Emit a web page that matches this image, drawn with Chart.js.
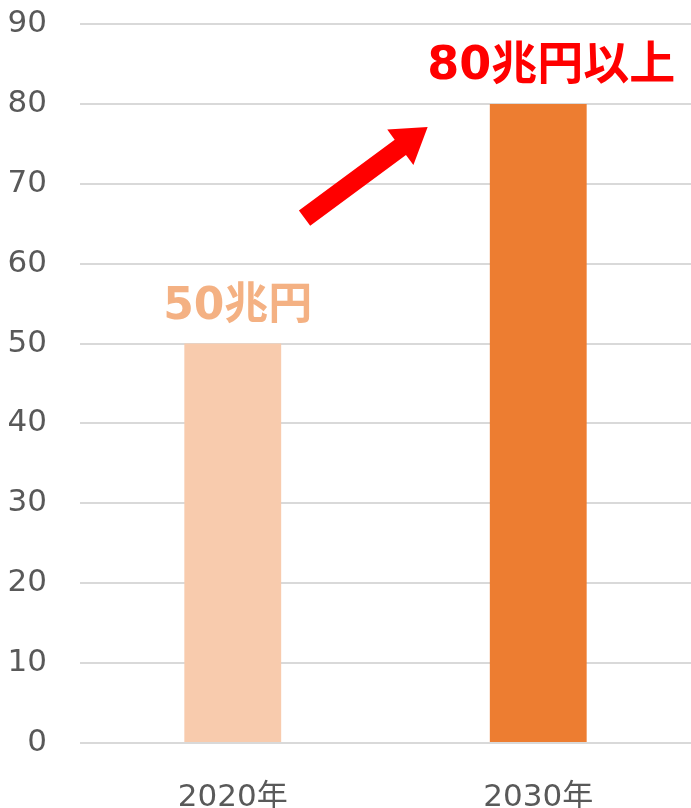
<!DOCTYPE html>
<html>
<head>
<meta charset="utf-8">
<script src="https://cdn.jsdelivr.net/npm/chart.js@4"></script>
<style>
  html, body { margin: 0; padding: 0; background: #fff; }
  #wrap { width: 691px; height: 808px; }
</style>
</head>
<body>
<div id="wrap"><canvas id="c" width="691" height="808"></canvas></div>
<script>
const categories = ['2020年', '2030年'];
const values = [50, 80];
const barColors = ['#F8CBAD', '#ED7D31'];
const labelSuffixes = ['', '以上'];
const labelColors = ['#F4B183', '#FF0000'];
const yTicks = [0, 10, 20, 30, 40, 50, 60, 70, 80, 90];

const FONT = '"DejaVu Sans", "Noto Sans CJK JP", sans-serif';

// value labels above the bars and the growth arrow between them
const annotate = {
  id: 'annotate',
  afterDatasetsDraw(chart) {
    const ctx = chart.ctx;
    const x = chart.scales.x, y = chart.scales.y;
    const meta = chart.getDatasetMeta(0);
    ctx.save();
    ctx.textBaseline = 'alphabetic';
    ctx.textAlign = 'center';
    const offsets = [5, 13];
    const sizes = [44, 46];
    values.forEach((v, i) => {
      const bar = meta.data[i];
      ctx.font = 'bold ' + sizes[i] + 'px ' + FONT;
      ctx.fillStyle = labelColors[i];
      ctx.fillText(v + '兆円' + labelSuffixes[i], bar.x + offsets[i], bar.y - 25);
    });

    // arrow from the first bar's label toward the second bar's top
    const x0 = x.getPixelForValue(0.235), y0 = y.getPixelForValue(65.7);
    const x1 = x.getPixelForValue(0.638), y1 = y.getPixelForValue(77.1);
    const ang = Math.atan2(y1 - y0, x1 - x0);
    const len = Math.hypot(x1 - x0, y1 - y0);
    const shaftW = 19, headW = 44, headL = 34;
    ctx.translate(x0, y0);
    ctx.rotate(ang);
    ctx.beginPath();
    ctx.moveTo(0, -shaftW / 2);
    ctx.lineTo(len - headL, -shaftW / 2);
    ctx.lineTo(len - headL, -headW / 2);
    ctx.lineTo(len, 0);
    ctx.lineTo(len - headL, headW / 2);
    ctx.lineTo(len - headL, shaftW / 2);
    ctx.lineTo(0, shaftW / 2);
    ctx.closePath();
    ctx.fillStyle = '#FF0000';
    ctx.fill();
    ctx.restore();
  }
};

new Chart(document.getElementById('c'), {
  type: 'bar',
  data: {
    labels: categories,
    datasets: [{
      data: values,
      backgroundColor: barColors,
      categoryPercentage: 1,
      barPercentage: 0.317
    }]
  },
  options: {
    responsive: false,
    animation: false,
    devicePixelRatio: 1,
    layout: { padding: { top: 24, right: 0, left: 0, bottom: 0 } },
    plugins: { legend: { display: false }, tooltip: { enabled: false } },
    scales: {
      x: {
        grid: { display: false, drawTicks: false },
        border: { display: false },
        ticks: { color: '#595959', font: { family: FONT, size: 31 }, padding: 36 },
        afterFit(s) { s.height = 65; s.paddingLeft = 0; s.paddingRight = 0; }
      },
      y: {
        min: 0,
        max: 90,
        afterBuildTicks(s) { s.ticks = yTicks.map(v => ({ value: v })); },
        grid: { color: '#D9D9D9', lineWidth: 2, drawTicks: false },
        border: { display: false },
        ticks: { color: '#595959', font: { family: FONT, size: 31 }, padding: 33 },
        afterFit(s) { s.width = 80; s.paddingTop = 0; s.paddingBottom = 0; }
      }
    }
  },
  plugins: [annotate]
});
</script>
</body>
</html>
